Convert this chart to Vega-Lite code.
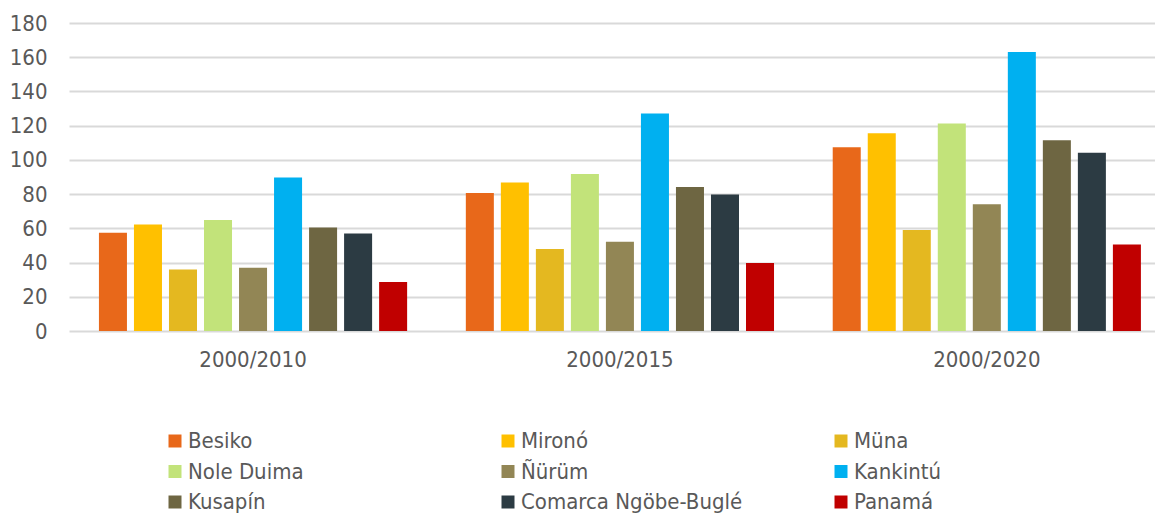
{
  "$schema": "https://vega.github.io/schema/vega-lite/v6.json",
  "width": 1086,
  "height": 308,
  "autosize": "none",
  "padding": {"left": 69, "top": 23, "right": 0, "bottom": 183},
  "background": "white",
  "config": {
    "view": {"stroke": null},
    "font": "DejaVu Sans Condensed",
    "axis": {"labelFont": "DejaVu Sans Condensed", "labelColor": "#595959", "labelFontSize": 22},
    "legend": {"labelFont": "DejaVu Sans Condensed", "labelColor": "#595959", "labelFontSize": 22}
  },
  "data": {
    "values": [
      {"period": "2000/2010", "area": "Besiko", "value": 57.4},
      {"period": "2000/2010", "area": "Mironó", "value": 62.3},
      {"period": "2000/2010", "area": "Müna", "value": 36.0},
      {"period": "2000/2010", "area": "Nole Duima", "value": 64.8},
      {"period": "2000/2010", "area": "Ñürüm", "value": 37.0},
      {"period": "2000/2010", "area": "Kankintú", "value": 89.7},
      {"period": "2000/2010", "area": "Kusapín", "value": 60.5},
      {"period": "2000/2010", "area": "Comarca Ngöbe-Buglé", "value": 57.0},
      {"period": "2000/2010", "area": "Panamá", "value": 28.6},
      {"period": "2000/2015", "area": "Besiko", "value": 80.6},
      {"period": "2000/2015", "area": "Mironó", "value": 86.8},
      {"period": "2000/2015", "area": "Müna", "value": 47.9},
      {"period": "2000/2015", "area": "Nole Duima", "value": 91.7},
      {"period": "2000/2015", "area": "Ñürüm", "value": 52.1},
      {"period": "2000/2015", "area": "Kankintú", "value": 127.1},
      {"period": "2000/2015", "area": "Kusapín", "value": 84.1},
      {"period": "2000/2015", "area": "Comarca Ngöbe-Buglé", "value": 79.8},
      {"period": "2000/2015", "area": "Panamá", "value": 39.7},
      {"period": "2000/2020", "area": "Besiko", "value": 107.4},
      {"period": "2000/2020", "area": "Mironó", "value": 115.6},
      {"period": "2000/2020", "area": "Müna", "value": 59.0},
      {"period": "2000/2020", "area": "Nole Duima", "value": 121.2},
      {"period": "2000/2020", "area": "Ñürüm", "value": 74.1},
      {"period": "2000/2020", "area": "Kankintú", "value": 163.1},
      {"period": "2000/2020", "area": "Kusapín", "value": 111.5},
      {"period": "2000/2020", "area": "Comarca Ngöbe-Buglé", "value": 104.1},
      {"period": "2000/2020", "area": "Panamá", "value": 50.6}
    ]
  },
  "mark": {"type": "bar"},
  "encoding": {
    "x": {
      "field": "period",
      "type": "nominal",
      "sort": null,
      "scale": {"paddingInner": 0.16, "paddingOuter": 0.06, "align": 0.68},
      "axis": {"title": null, "labelAngle": 0, "ticks": false, "domain": false, "labelPadding": 18, "labelBaseline": "top"}
    },
    "xOffset": {
      "field": "area",
      "type": "nominal",
      "sort": ["Besiko", "Mironó", "Müna", "Nole Duima", "Ñürüm", "Kankintú", "Kusapín", "Comarca Ngöbe-Buglé", "Panamá"],
      "scale": {"paddingInner": 0.2, "paddingOuter": 0}
    },
    "y": {
      "field": "value",
      "type": "quantitative",
      "scale": {"domain": [0, 180], "nice": false},
      "axis": {"title": null, "values": [0, 20, 40, 60, 80, 100, 120, 140, 160, 180], "ticks": false, "domain": false, "grid": true, "gridColor": "#D9D9D9", "gridWidth": 2, "labelPadding": 22}
    },
    "color": {
      "field": "area",
      "type": "nominal",
      "scale": {
        "domain": ["Besiko", "Nole Duima", "Kusapín", "Mironó", "Ñürüm", "Comarca Ngöbe-Buglé", "Müna", "Kankintú", "Panamá"],
        "range": ["#E8681A", "#C2E37A", "#6E6642", "#FFC000", "#928655", "#2C3B43", "#E4B820", "#00B0F0", "#C00000"]
      },
      "legend": {
        "title": null,
        "orient": "none",
        "legendX": 95,
        "legendY": 407,
        "columns": 3,
        "gridAlign": "all",
        "columnPadding": 87,
        "rowPadding": 8.5,
        "padding": 0,
        "symbolType": "square",
        "symbolSize": 169,
        "symbolStrokeWidth": 0,
        "labelOffset": 2,
        "labelLimit": 400
      }
    }
  }
}
